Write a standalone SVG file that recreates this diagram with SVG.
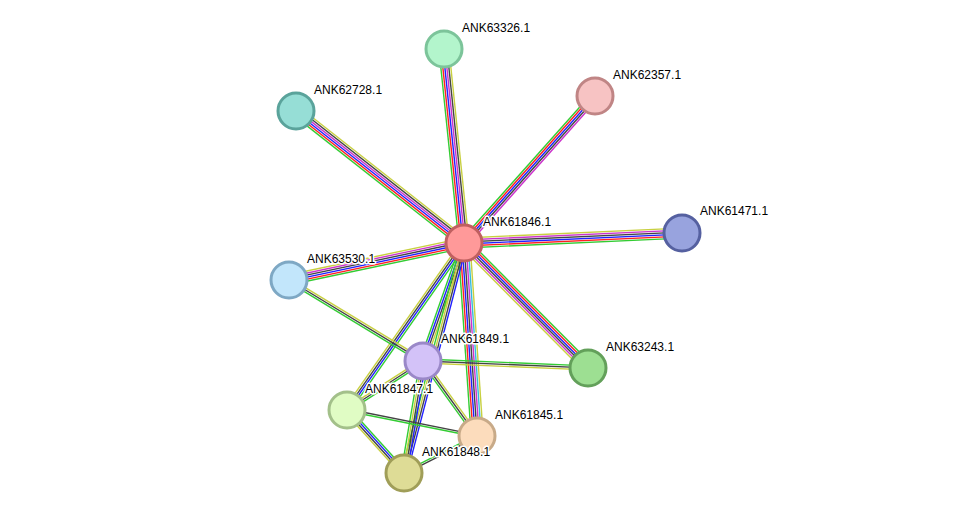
<svg xmlns="http://www.w3.org/2000/svg" width="975" height="519" viewBox="0 0 975 519">
<style>
line{stroke-width:1.4;fill:none}
.g{stroke:#33cc33}.r{stroke:#ff2020}.b{stroke:#2020ff}.m{stroke:#cc33cc}.k{stroke:#444}.y{stroke:#c8d040}.c{stroke:#33bbdd}
circle{stroke-width:3}
text{font-family:"Liberation Sans",Arial,sans-serif;font-size:12px;fill:#000;stroke:#fff;stroke-width:3;paint-order:stroke;stroke-linejoin:round}
</style>
<rect width="975" height="519" fill="#fff"/>
<g id="edges">
<g transform="translate(464,243) rotate(-95.9)"><line class="g" x2="195" y1="-5" y2="-5"/><line class="r" x2="195" y1="-3" y2="-3"/><line class="b" x2="195" y1="-1" y2="-1"/><line class="m" x2="195" y1="1" y2="1"/><line class="k" x2="195" y1="3" y2="3"/><line class="y" x2="195" y1="5" y2="5"/></g>
<g transform="translate(464,243) rotate(-48.3)"><line class="g" x2="197" y1="-4" y2="-4"/><line class="r" x2="197" y1="-2" y2="-2"/><line class="b" x2="197"/><line class="k" x2="197" y1="2" y2="2"/><line class="m" x2="197" y1="4" y2="4"/></g>
<g transform="translate(464,243) rotate(-141.8)"><line class="g" x2="214" y1="-5" y2="-5"/><line class="r" x2="214" y1="-3" y2="-3"/><line class="b" x2="214" y1="-1" y2="-1"/><line class="m" x2="214" y1="1" y2="1"/><line class="k" x2="214" y1="3" y2="3"/><line class="y" x2="214" y1="5" y2="5"/></g>
<g transform="translate(464,243) rotate(-2.6)"><line class="y" x2="218" y1="-5" y2="-5"/><line class="m" x2="218" y1="-3" y2="-3"/><line class="k" x2="218" y1="-1" y2="-1"/><line class="b" x2="218" y1="1" y2="1"/><line class="r" x2="218" y1="3" y2="3"/><line class="g" x2="218" y1="5" y2="5"/></g>
<g transform="translate(464,243) rotate(168.1)"><line class="g" x2="179" y1="-5" y2="-5"/><line class="r" x2="179" y1="-3" y2="-3"/><line class="b" x2="179" y1="-1" y2="-1"/><line class="k" x2="179" y1="1" y2="1"/><line class="m" x2="179" y1="3" y2="3"/><line class="y" x2="179" y1="5" y2="5"/></g>
<g transform="translate(464,243) rotate(45.2)"><line class="g" x2="176" y1="-5" y2="-5"/><line class="r" x2="176" y1="-3" y2="-3"/><line class="b" x2="176" y1="-1" y2="-1"/><line class="k" x2="176" y1="1" y2="1"/><line class="m" x2="176" y1="3" y2="3"/><line class="y" x2="176" y1="5" y2="5"/></g>
<g transform="translate(464,243) rotate(109.2)"><line class="y" x2="125" y1="-3" y2="-3"/><line class="k" x2="125" y1="-1" y2="-1"/><line class="b" x2="125" y1="1" y2="1"/><line class="g" x2="125" y1="3" y2="3"/></g>
<g transform="translate(464,243) rotate(125)"><line class="g" x2="204" y1="-3" y2="-3"/><line class="b" x2="204" y1="-1" y2="-1"/><line class="k" x2="204" y1="1" y2="1"/><line class="y" x2="204" y1="3" y2="3"/></g>
<g transform="translate(464,243) rotate(86.1)"><line class="y" x2="193" y1="-6" y2="-6"/><line class="c" x2="193" y1="-4" y2="-4"/><line class="m" x2="193" y1="-2" y2="-2"/><line class="k" x2="193"/><line class="b" x2="193" y1="2" y2="2"/><line class="r" x2="193" y1="4" y2="4"/><line class="g" x2="193" y1="6" y2="6"/></g>
<g transform="translate(464,243) rotate(104.6)"><line class="b" x2="238" y1="-3" y2="-3"/><line class="k" x2="238" y1="-1" y2="-1"/><line class="y" x2="238" y1="1" y2="1"/><line class="g" x2="238" y1="3" y2="3"/></g>
<g transform="translate(289,280) rotate(31.2)"><line class="y" x2="157" y1="-2" y2="-2"/><line class="k" x2="157"/><line class="g" x2="157" y1="2" y2="2"/></g>
<g transform="translate(423,361) rotate(2.4)"><line class="g" x2="165" y1="-2" y2="-2"/><line class="k" x2="165"/><line class="y" x2="165" y1="2" y2="2"/></g>
<g transform="translate(423,361) rotate(147.2)"><line class="g" x2="90" y1="-2" y2="-2"/><line class="k" x2="90"/><line class="y" x2="90" y1="2" y2="2"/></g>
<g transform="translate(423,361) rotate(54.2)"><line class="y" x2="92" y1="-2" y2="-2"/><line class="k" x2="92"/><line class="g" x2="92" y1="2" y2="2"/></g>
<g transform="translate(423,361) rotate(99.6)"><line class="b" x2="114" y1="-3" y2="-3"/><line class="k" x2="114" y1="-1" y2="-1"/><line class="y" x2="114" y1="1" y2="1"/><line class="g" x2="114" y1="3" y2="3"/></g>
<g transform="translate(347,410) rotate(11.3)"><line class="k" x2="133" y1="-1" y2="-1"/><line class="g" x2="133" y1="1" y2="1"/></g>
<g transform="translate(347,410) rotate(47.9)"><line class="g" x2="85" y1="-3" y2="-3"/><line class="b" x2="85" y1="-1" y2="-1"/><line class="k" x2="85" y1="1" y2="1"/><line class="y" x2="85" y1="3" y2="3"/></g>
<g transform="translate(477,436) rotate(153.1)"><line class="k" x2="82" y1="-1" y2="-1"/><line class="g" x2="82" y1="1" y2="1"/></g>
</g>
<g id="n63326"><circle cx="444" cy="49" r="18" fill="#b3f5cc" stroke="#7cc49a"/><text x="462" y="32">ANK63326.1</text></g>
<g id="n62357"><circle cx="595" cy="96" r="18" fill="#f7c3c3" stroke="#c08585"/><text x="613" y="79">ANK62357.1</text></g>
<g id="n62728"><circle cx="296" cy="111" r="18" fill="#96ded6" stroke="#5aa39b"/><text x="314" y="94">ANK62728.1</text></g>
<g id="n61471"><circle cx="682" cy="233" r="18" fill="#98a3de" stroke="#5560a0"/><text x="700" y="215">ANK61471.1</text></g>
<g id="n63530"><circle cx="289" cy="280" r="18" fill="#c2e6fb" stroke="#7ea8c4"/><text x="307" y="263">ANK63530.1</text></g>
<g id="n63243"><circle cx="588" cy="368" r="18" fill="#9ddf92" stroke="#63a05a"/><text x="606" y="351">ANK63243.1</text></g>
<g id="n61847"><circle cx="347" cy="410" r="18" fill="#e0fcc4" stroke="#a3c08a"/><text x="365" y="393">ANK61847.1</text></g>
<g id="n61845"><circle cx="477" cy="436" r="18" fill="#fcdcbc" stroke="#c8aa88"/><text x="495" y="419">ANK61845.1</text></g>
<g id="n61848"><circle cx="404" cy="473" r="18" fill="#dedc96" stroke="#a09e58"/><text x="422" y="456">ANK61848.1</text></g>
<g id="n61849"><circle cx="423" cy="361" r="18" fill="#d3c2f8" stroke="#9a88c8"/><text x="441" y="343">ANK61849.1</text></g>
<g id="n61846"><circle cx="464" cy="243" r="18" fill="#ff9999" stroke="#c06060"/><text x="483" y="226">ANK61846.1</text></g>
</svg>
